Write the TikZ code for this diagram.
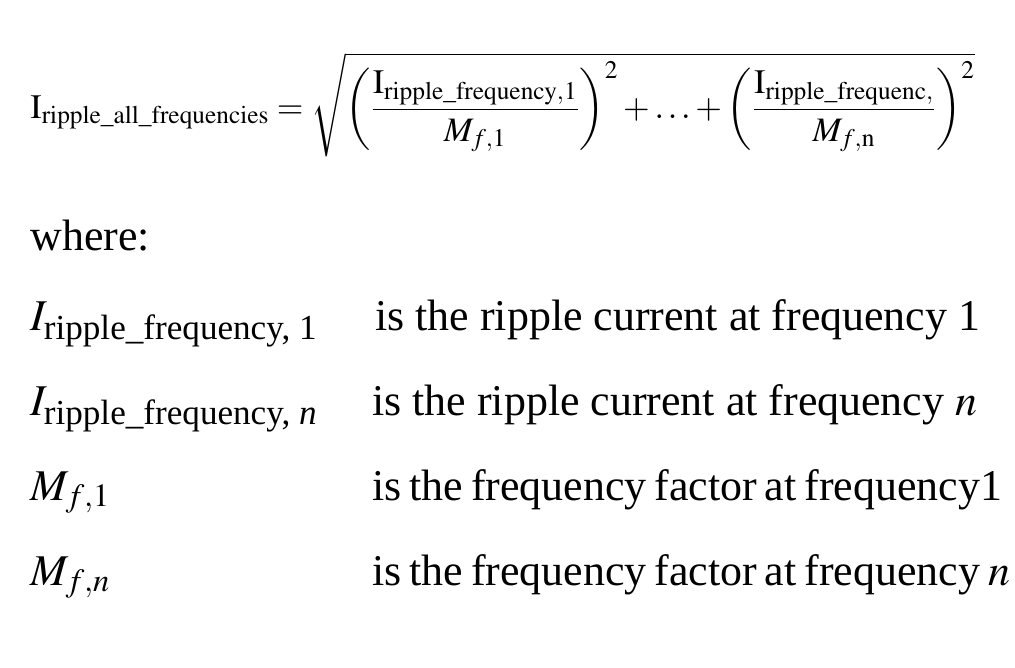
\documentclass[tikz,border=0pt]{standalone}
\usepackage{amsmath}
\usepackage{mathptmx}
\usepackage{fontspec}
\setmainfont{Liberation Serif}
\usetikzlibrary{positioning}
\newcommand{\tightsp}{\spaceskip=0.18em plus 0.05em\relax}
\newcommand{\sub}[1]{\mbox{\fontsize{20}{24}\selectfont #1}}
\tikzset{txt/.style={anchor=base west, inner sep=0pt, font=\fontsize{25}{30}\selectfont},
  tight/.style={font=\fontsize{25}{30}\selectfont\tightsp}}
\begin{document}
\begin{tikzpicture}[x=0.02cm,y=-0.02cm]
  \useasboundingbox (0,0) rectangle (1015,667);
  % formula
  \node [txt, font=\fontsize{19.5}{24}\selectfont] (formula) at (30,118)
    {$\mathrm{I}_{\mathrm{ripple\_all\_frequencies}} = \sqrt{\left(\dfrac{\mathrm{I}_{\mathrm{ripple\_frequency,1}}}{M_{f,1}}\right)^{2} + \ldots + \left(\dfrac{\mathrm{I}_{\mathrm{ripple\_frequenc,}}}{M_{f,\mathrm{n}}}\right)^{2}}$};
  \node [txt] (where) at (30,250) {where:};
  % terms
  \node [txt] (i1) at (30,330) {$I_{\sub{ripple\_frequency, 1}}$};
  \node [txt] (in) at (30,415) {$I_{\sub{ripple\_frequency, \textit{n}}}$};
  \node [txt] (m1) at (30,500) {$M_{f,1}$};
  \node [txt] (mn) at (30,585) {$M_{f,n}$};
  % descriptions
  \node [txt] (d1) at (375,330) {is the ripple current at frequency 1};
  \node [txt] (dn) at (372,415) {is the ripple current at frequency $n$};
  \node [txt, tight] (d3) at (372,500) {is the frequency factor at frequency1};
  \node [txt, tight] (d4) at (372,585) {is the frequency factor at frequency $n$};
\end{tikzpicture}
\end{document}
